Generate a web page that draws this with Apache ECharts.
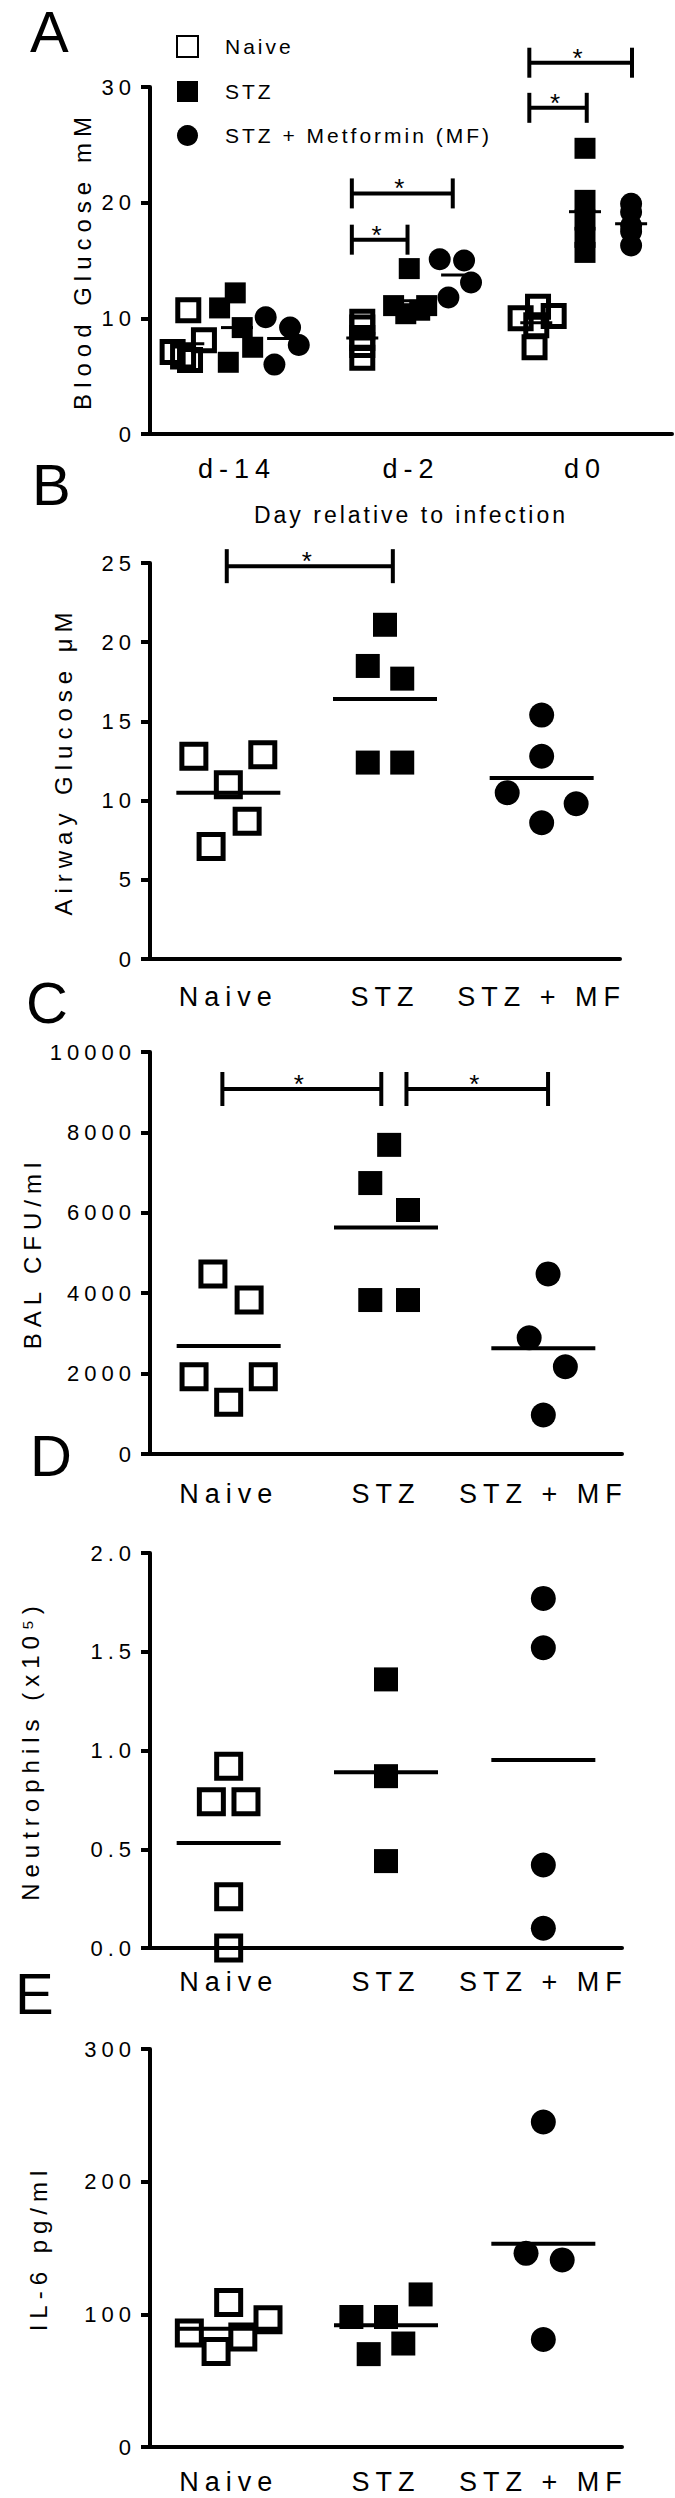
<!DOCTYPE html>
<html>
<head>
<meta charset="utf-8">
<script src="https://cdn.jsdelivr.net/npm/echarts@6/dist/echarts.min.js"></script>
<style>
  html, body { margin: 0; padding: 0; background: #fff; }
  #chart { width: 675px; height: 2498px; }
  /* GraphPad-style spaced lettering */
  #chart text { letter-spacing: 5px; }
  #chart text[style*="21px"], #chart text[style*="23px"] { letter-spacing: 3px; }
  #chart text[style*="24px"], #chart text[style*="27px"] { letter-spacing: 6px; }
  #chart text[style*="26px"], #chart text[style*="58px"] { letter-spacing: 0; }
</style>
</head>
<body>
<div id="chart"></div>
<script>
  const FONT = 'Liberation Sans, Arial, sans-serif'
  const days = ['d-14', 'd-2', 'd0']
  const groups = ['Naive', 'STZ', 'STZ + MF']
  const legendNames = ['Naive', 'STZ', 'STZ + Metformin (MF)']

  // A - blood glucose mM, one row per day (d-14, d-2, d0)
  const bloodNaive = [[10.7, 8.1, 7.1, 6.7, 6.4], [9.7, 9.2, 8.3, 7.7, 6.6], [10.0, 11.0, 10.2, 7.5, 9.4]]
  const bloodStz = [[12.2, 10.9, 9.2, 7.5, 6.2], [14.3, 11.1, 11.1, 10.4, 10.7], [24.7, 20.2, 18.5, 17.0, 15.7]]
  const bloodMf = [[10.1, 9.2, 7.7, 6.0], [15.1, 15.0, 13.1, 11.8], [19.9, 19.2, 18.0, 17.5, 16.3]]
  const bloodNaiveJitter = [[0, 0.09, -0.09, -0.03, 0.01], [0, 0, 0, 0, 0], [-0.09, 0.01, 0.1, -0.01, 0]]
  const bloodStzJitter = [[-0.01, -0.1, 0.03, 0.09, -0.05], [-0.01, -0.1, 0.09, -0.03, 0.05], [0, 0, 0, 0, 0]]
  const bloodMfJitter = [[-0.1, 0.04, 0.09, -0.05], [-0.1, 0.04, 0.08, -0.05], [0, 0, 0, 0, 0]]
  const bloodSig = [[1.16, 1.48, 16.8], [1.16, 1.74, 20.8], [2.18, 2.51, 28.2], [2.18, 2.77, 32.1]]

  // B - airway glucose uM
  const airwayNaive = [12.8, 12.9, 11.0, 8.7, 7.1]
  const airwayStz = [21.1, 18.5, 17.7, 12.4, 12.4]
  const airwayMf = [15.4, 12.8, 10.5, 9.8, 8.6]
  const airwayNaiveJitter = [-0.22, 0.22, 0, 0.12, -0.11]
  const airwayStzJitter = [0, -0.11, 0.11, -0.11, 0.11]
  const airwayMfJitter = [0, 0, -0.22, 0.22, 0]
  const airwaySig = [[0.49, 1.55, 24.8]]

  // C - BAL CFU/ml
  const cfuNaive = [4480, 3830, 1920, 1920, 1290]
  const cfuStz = [7690, 6740, 6070, 3830, 3830]
  const cfuMf = [4480, 2890, 2170, 970]
  const cfuNaiveJitter = [-0.1, 0.13, -0.22, 0.22, 0]
  const cfuStzJitter = [0.02, -0.1, 0.14, -0.1, 0.14]
  const cfuMfJitter = [0.03, -0.09, 0.14, 0]
  const cfuSig = [[0.46, 1.47, 9080], [1.63, 2.53, 9080]]

  // D - neutrophils (x10^5)
  const neutNaive = [0.92, 0.74, 0.74, 0.26, 0.0]
  const neutStz = [1.36, 0.87, 0.44]
  const neutMf = [1.77, 1.52, 0.42, 0.10]
  const neutNaiveJitter = [0, -0.11, 0.11, 0, 0]
  const neutStzJitter = [0, 0, 0]
  const neutMfJitter = [0, 0, 0, 0]

  // E - IL-6 pg/ml
  const il6Naive = [109, 86, 72, 83, 96]
  const il6Stz = [98, 98, 115, 70, 78]
  const il6Mf = [245, 146, 141, 81]
  const il6NaiveJitter = [0, -0.25, -0.08, 0.09, 0.25]
  const il6StzJitter = [-0.22, 0, 0.22, -0.11, 0.11]
  const il6MfJitter = [0, -0.11, 0.12, 0]

  let myChart = echarts.init(document.getElementById('chart'), null, {renderer: 'svg'})

  let symbols = [
    {symbol: 'rect', itemStyle: {color: 'transparent', borderColor: '#000', borderWidth: 5, opacity: 1}},
    {symbol: 'rect', itemStyle: {color: '#000', opacity: 1}},
    {symbol: 'circle', itemStyle: {color: '#000', opacity: 1}}
  ]

  function mean (a) {
    return a.reduce((s, v) => s + v, 0) / a.length
  }

  function meanLine (half, width) {
    return function (params, api) {
      let p = api.coord([api.value(0), api.value(1)])
      return {
        type: 'line',
        shape: {x1: p[0] - half, y1: p[1], x2: p[0] + half, y2: p[1]},
        style: {stroke: '#000', lineWidth: width}
      }
    }
  }

  function sigBar (h) {
    return function (params, api) {
      let a = api.coord([api.value(0), api.value(2)])
      let b = api.coord([api.value(1), api.value(2)])
      let line = {stroke: '#000', lineWidth: 4}
      return {
        type: 'group',
        children: [
          {type: 'line', shape: {x1: a[0], y1: a[1], x2: b[0], y2: b[1]}, style: line},
          {type: 'line', shape: {x1: a[0], y1: a[1] - h, x2: a[0], y2: a[1] + h}, style: line},
          {type: 'line', shape: {x1: b[0], y1: b[1] - h, x2: b[0], y2: b[1] + h}, style: line},
          {type: 'text', x: (a[0] + b[0]) / 2 - 3, y: a[1] - 5,
            style: {text: '*', fill: '#000', font: '26px ' + FONT, align: 'center', verticalAlign: 'middle'}}
        ]
      }
    }
  }

  // panel layout
  let panels = [
    {top: 87, height: 347, width: 522, cats: days, max: 30, interval: 10, name: 'Blood Glucose mM', nameGap: 56, labelMargin: 21, letter: 'A', lx: 30, ly: 31},
    {top: 563, height: 396, width: 470, cats: groups, max: 25, interval: 5, name: 'Airway Glucose μM', nameGap: 75, labelMargin: 24, letter: 'B', lx: 32, ly: 484},
    {top: 1052, height: 402, width: 472, cats: groups, max: 10000, interval: 2000, name: 'BAL CFU/ml', nameGap: 106, labelMargin: 26, letter: 'C', lx: 26, ly: 1002},
    {top: 1553, height: 395, width: 472, cats: groups, max: 2, interval: 0.5, name: 'Neutrophils (x10⁵)', nameGap: 108, labelMargin: 20, letter: 'D', lx: 30, ly: 1455, fixed: 1},
    {top: 2049, height: 398, width: 472, cats: groups, max: 300, interval: 100, name: 'IL-6 pg/ml', nameGap: 100, labelMargin: 21, letter: 'E', lx: 15, ly: 1993}
  ]

  let grid = []
  let xAxis = []
  let yAxis = []
  let graphic = []
  panels.forEach((p, i) => {
    grid.push({left: 150, top: p.top, width: p.width, height: p.height})
    xAxis.push({
      type: 'category', gridIndex: i, data: p.cats, boundaryGap: true,
      axisLine: {lineStyle: {color: '#000', width: 4}},
      axisTick: {alignWithLabel: true, length: 11, lineStyle: {width: 4}},
      axisLabel: {color: '#000', fontSize: 27, fontFamily: FONT, margin: p.labelMargin, interval: 0},
      name: i === 0 ? 'Day relative to infection' : '',
      nameLocation: 'middle', nameGap: 69,
      nameTextStyle: {color: '#000', fontSize: 23, fontFamily: FONT}
    })
    xAxis.push({type: 'value', gridIndex: i, min: 0, max: 3, show: false})
    yAxis.push({
      type: 'value', gridIndex: i, min: 0, max: p.max, interval: p.interval,
      splitLine: {show: false},
      axisLine: {show: true, lineStyle: {color: '#000', width: 4}},
      axisTick: {show: true, length: 9, lineStyle: {width: 4}},
      axisLabel: {
        color: '#000', fontSize: 22, fontFamily: FONT, margin: 14,
        formatter: v => p.fixed ? v.toFixed(p.fixed) : String(v)
      },
      name: p.name, nameLocation: 'middle', nameGap: p.nameGap,
      nameTextStyle: {color: '#000', fontSize: 24, fontFamily: FONT}
    })
    graphic.push({
      type: 'text', x: p.lx, y: p.ly,
      style: {text: p.letter, fill: '#000', font: '58px ' + FONT, verticalAlign: 'middle', lineHeight: 44}
    })
  })

  let series = []

  function addScatter (panel, g, data, size, name) {
    series.push(Object.assign({
      name: name, type: 'scatter', xAxisIndex: panel * 2 + 1, yAxisIndex: panel,
      symbolSize: size, data: data, z: 3, emphasis: {disabled: true}
    }, JSON.parse(JSON.stringify(symbols[g]))))
  }

  // panel A: three groups beside each other per day
  let offsetsA = [-0.28, 0, 0.265]
  let bloodValues = [bloodNaive, bloodStz, bloodMf]
  let bloodJitter = [bloodNaiveJitter, bloodStzJitter, bloodMfJitter]
  let meansA = []
  bloodValues.forEach((rows, g) => {
    let data = []
    rows.forEach((vals, d) => {
      let c = d + 0.5 + offsetsA[g]
      vals.forEach((v, k) => data.push([c + bloodJitter[g][d][k], v]))
      meansA.push([c, mean(vals)])
    })
    addScatter(0, g, data, g === 2 ? 22 : 21, legendNames[g])
  })
  series.push({type: 'custom', xAxisIndex: 1, yAxisIndex: 0, renderItem: meanLine(16, 3), data: meansA, z: 4, silent: true})
  series.push({type: 'custom', xAxisIndex: 1, yAxisIndex: 0, renderItem: sigBar(15), data: bloodSig, clip: false, silent: true,
    encode: {x: [0, 1], y: 2}})

  // panels B-E: one group per category
  let simple = [
    {values: [airwayNaive, airwayStz, airwayMf], jitter: [airwayNaiveJitter, airwayStzJitter, airwayMfJitter], sig: airwaySig},
    {values: [cfuNaive, cfuStz, cfuMf], jitter: [cfuNaiveJitter, cfuStzJitter, cfuMfJitter], sig: cfuSig},
    {values: [neutNaive, neutStz, neutMf], jitter: [neutNaiveJitter, neutStzJitter, neutMfJitter]},
    {values: [il6Naive, il6Stz, il6Mf], jitter: [il6NaiveJitter, il6StzJitter, il6MfJitter]}
  ]
  simple.forEach((s, j) => {
    let panel = j + 1
    let means = []
    s.values.forEach((vals, g) => {
      let c = g + 0.5
      addScatter(panel, g, vals.map((v, k) => [c + s.jitter[g][k], v]), g === 2 ? 25 : 24, groups[g])
      means.push([c, mean(vals)])
    })
    series.push({type: 'custom', xAxisIndex: panel * 2 + 1, yAxisIndex: panel, renderItem: meanLine(52, 4), data: means, z: 4, silent: true})
    if (s.sig) {
      series.push({type: 'custom', xAxisIndex: panel * 2 + 1, yAxisIndex: panel, renderItem: sigBar(17), data: s.sig, clip: false, silent: true,
        encode: {x: [0, 1], y: 2}})
    }
  })

  let option = {
    animation: false,
    backgroundColor: '#fff',
    grid: grid,
    xAxis: xAxis,
    yAxis: yAxis,
    graphic: graphic,
    legend: {
      orient: 'vertical', left: 176, top: 35, padding: 0,
      itemWidth: 21, itemHeight: 21, itemGap: 23, selectedMode: false,
      textStyle: {color: '#000', fontSize: 21, fontFamily: FONT, padding: [0, 0, 0, 22]},
      data: [
        {name: legendNames[0], icon: 'rect'},
        {name: legendNames[1], icon: 'rect'},
        {name: legendNames[2], icon: 'circle'}
      ]
    },
    series: series
  }
  myChart.setOption(option)
</script>
</body>
</html>
